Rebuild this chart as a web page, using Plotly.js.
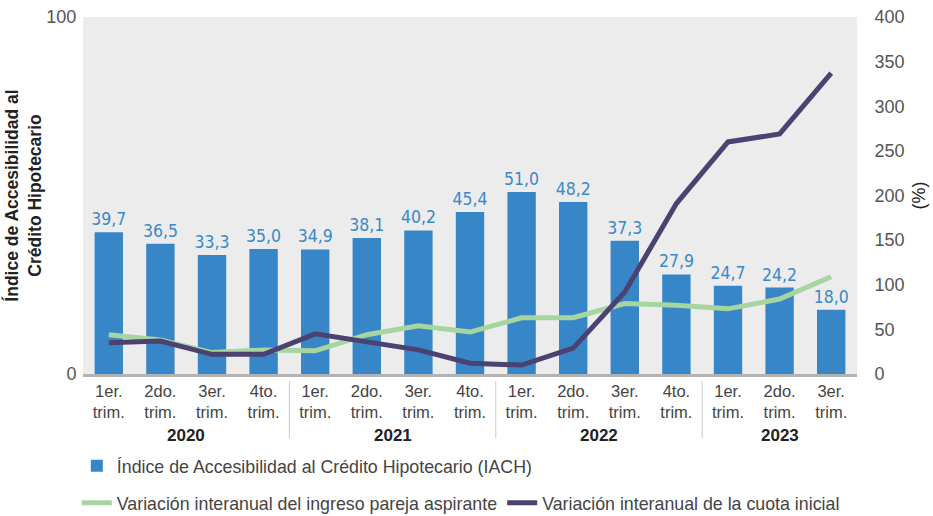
<!DOCTYPE html>
<html><head><meta charset="utf-8">
<script src="https://cdn.plot.ly/plotly-3.0.1.min.js"></script>
<style>body{margin:0;background:#fff}#c{width:933px;height:516px}</style>
</head><body><div id="c"></div>
<script>
const quarters = ['1er.<br>trim.','2do.<br>trim.','3er.<br>trim.','4to.<br>trim.','1er.<br>trim.','2do.<br>trim.','3er.<br>trim.','4to.<br>trim.','1er.<br>trim.','2do.<br>trim.','3er.<br>trim.','4to.<br>trim.','1er.<br>trim.','2do.<br>trim.','3er.<br>trim.'];
const years = ['2020','2021','2022','2023'];
const yearCenters = [1.5, 5.5, 9.5, 13];
const yearSeparators = [3.5, 7.5, 11.5];
const iach = [39.7,36.5,33.3,35.0,34.9,38.1,40.2,45.4,51.0,48.2,37.3,27.9,24.7,24.2,18.0];
const ingreso = [44,38,24,27,26,44,54,47,63,63,79,77,73,84,109];
const cuota = [35,37,22,22,45,36,27,12,10,29,92,191,260,269,337];

const idx = quarters.map((_, i) => i);
const fmt = v => v.toFixed(1).replace('.', ',');

const traces = [
  {type:'bar', x:idx, y:iach, name:'Índice de Accesibilidad al Crédito Hipotecario (IACH)',
   marker:{color:'#3787c8'}, width:0.55, text:iach.map(fmt), textposition:'outside', constraintext:'none',
   textfont:{family:'Liberation Sans Narrow, DejaVu Sans Condensed, sans-serif', size:17.5, color:'#3a88cb'},
   cliponaxis:false, hoverinfo:'skip', legend:'legend'},
  {type:'scatter', mode:'lines', x:idx, y:ingreso, yaxis:'y2', name:'Variación interanual del ingreso pareja aspirante',
   line:{color:'#a6d5a0', width:5}, legend:'legend2'},
  {type:'scatter', mode:'lines', x:idx, y:cuota, yaxis:'y2', name:'Variación interanual de la cuota inicial',
   line:{color:'#4b4272', width:5}, legend:'legend2'}
];

const shapes = yearSeparators.map(s => ({type:'line', xref:'x', yref:'paper', x0:s, x1:s, y0:-0.02, y1:-0.18,
  line:{color:'#c8c8c8', width:1}}));
const annotations = years.map((t, i) => ({xref:'x', yref:'paper', x:yearCenters[i], y:-0.173, text:'<b>'+t+'</b>',
  showarrow:false, yanchor:'middle', font:{size:17, color:'#222'}}));

const layout = {
  width:933, height:516,
  margin:{l:83, r:76, t:17, b:142, autoexpand:false},
  paper_bgcolor:'#ffffff', plot_bgcolor:'#ececec',
  font:{family:'Liberation Sans, Arial, sans-serif', color:'#444'},
  xaxis:{tickmode:'array', tickvals:idx, ticktext:quarters, range:[-0.5,14.5],
    showgrid:false, zeroline:false, showline:true, linecolor:'#b3b3b3', linewidth:3,
    ticks:'', tickfont:{size:16.5, color:'#444'}},
  yaxis:{range:[0,100], tickvals:[0,100], showgrid:false, zeroline:false,
    tickfont:{size:18, color:'#555'}, ticks:'outside', ticklen:2, tickcolor:'rgba(0,0,0,0)',
    title:{text:'<b>Índice de Accesibilidad al<br>Crédito Hipotecario</b>', font:{size:17.5, color:'#222'}, standoff:0}},
  yaxis2:{overlaying:'y', side:'right', range:[0,400], dtick:50, showgrid:false, zeroline:false,
    tickfont:{size:18, color:'#555'}, ticks:'outside', ticklen:13, tickcolor:'rgba(0,0,0,0)',
    title:{text:'(%)', font:{size:18, color:'#222'}, standoff:8}},
  legend:{orientation:'h', x:-0.008, xanchor:'left', y:-0.258, yanchor:'middle',
    font:{size:17.8, color:'#444'}, bgcolor:'rgba(0,0,0,0)'},
  legend2:{orientation:'h', x:-0.008, xanchor:'left', y:-0.362, yanchor:'middle',
    font:{size:17.8, color:'#444'}, bgcolor:'rgba(0,0,0,0)', itemwidth:30},
  shapes:shapes, annotations:annotations,
  showlegend:true
};
Plotly.newPlot('c', traces, layout, {displayModeBar:false, staticPlot:true});
</script></body></html>
